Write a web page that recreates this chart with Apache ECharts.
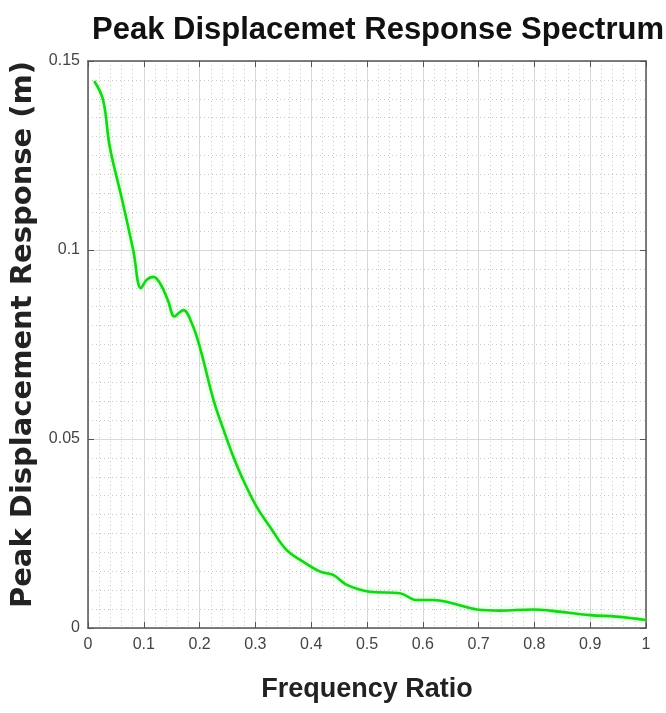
<!DOCTYPE html>
<html>
<head>
<meta charset="utf-8">
<script src="https://cdn.jsdelivr.net/npm/echarts@6/dist/echarts.min.js"></script>
<style>
html,body{margin:0;padding:0;background:#fff;}
#main{width:666px;height:713px;}
</style>
</head>
<body>
<div id="main"></div>
<script>
// curve
var freqRatio = [0.011,0.027,0.039,0.06,0.081,0.095,0.105,0.117,0.129,0.143,0.155,0.163,0.171,0.186,0.201,0.225,0.243,0.26,0.278,0.302,0.326,0.356,0.386,0.416,0.44,0.464,0.505,0.559,0.589,0.619,0.649,0.697,0.738,0.798,0.828,0.9,0.947,1.0];
var peakDisp = [0.1447,0.1397,0.1273,0.114,0.1,0.0899,0.0921,0.0929,0.0912,0.0868,0.0824,0.0834,0.0841,0.0806,0.074,0.0603,0.0524,0.0455,0.0392,0.0321,0.0268,0.0206,0.0175,0.0149,0.014,0.0114,0.0096,0.0092,0.0074,0.0074,0.0067,0.0049,0.0046,0.0049,0.0046,0.0034,0.003,0.0021];
var xTicks = [0,0.1,0.2,0.3,0.4,0.5,0.6,0.7,0.8,0.9,1];
var yTicks = [0,0.05,0.1,0.15];

var narrow = '"Liberation Sans Narrow", "Liberation Sans", Arial, sans-serif';

var pts = [];
for (var i = 0; i < freqRatio.length; i++) pts.push([freqRatio[i], peakDisp[i]]);

var myChart = echarts.init(document.getElementById('main'));

function fmtX(v){
    for (var i = 0; i < xTicks.length; i++) if (Math.abs(xTicks[i]-v) < 1e-9) return String(xTicks[i]);
    return '';
}
function fmtY(v){
    for (var i = 0; i < yTicks.length; i++) if (Math.abs(yTicks[i]-v) < 1e-9) return String(yTicks[i]);
    return '';
}

var boxLine = {show:true, onZero:false, lineStyle:{color:'#555', width:1.5}};
var tickIn = {show:true, inside:true, length:6, lineStyle:{color:'#555', width:1}};
var minorGrid = {show:true, lineStyle:{color:'#c8c8c8', type:[1,3], width:1}};

var option = {
    animation:false,
    backgroundColor:'#fff',
    title:{
        text:'Peak Displacemet Response Spectrum',
        left:373, top:10, textAlign:'center',
        textStyle:{fontFamily:narrow, fontWeight:'bold', fontSize:31, color:'#111'}
    },
    grid:{left:88, right:20, top:61, bottom:85},
    xAxis:[{
        type:'value', min:0, max:1, interval:0.1,
        name:'Frequency Ratio', nameLocation:'middle', nameGap:48,
        nameTextStyle:{fontFamily:narrow, fontWeight:'bold', fontSize:27, color:'#222'},
        axisLine:boxLine, axisTick:tickIn,
        minorTick:{show:false, splitNumber:5},
        axisLabel:{formatter:fmtX, fontFamily:narrow, fontSize:16, color:'#444', margin:9},
        splitLine:{show:true, lineStyle:{color:'#d8d8d8', width:1}},
        minorSplitLine:minorGrid
    },{
        type:'value', min:0, max:1, interval:0.1, position:'top',
        axisLine:boxLine, axisTick:tickIn, axisLabel:{show:false}, splitLine:{show:false}
    }],
    yAxis:[{
        type:'value', min:0, max:0.15, interval:0.05,
        name:'Peak Displacement Response (m)', nameLocation:'middle', nameGap:48,
        nameTextStyle:{fontFamily:'"DejaVu Sans", sans-serif', fontWeight:'bold', fontSize:29, color:'#222', padding:[0,0,0,20]},
        axisLine:boxLine, axisTick:tickIn,
        minorTick:{show:false, splitNumber:10},
        axisLabel:{formatter:fmtY, fontFamily:narrow, fontSize:16, color:'#444', margin:8},
        splitLine:{show:true, lineStyle:{color:'#d8d8d8', width:1}},
        minorSplitLine:minorGrid
    },{
        type:'value', min:0, max:0.15, interval:0.05, position:'right',
        axisLine:boxLine, axisTick:tickIn, axisLabel:{show:false}, splitLine:{show:false}
    }],
    series:[{
        type:'line', data:pts, smooth:0.4, showSymbol:false,
        lineStyle:{color:'#1fcf1f', width:2.6, shadowColor:'rgba(120,255,120,0.8)', shadowBlur:4}
    }]
};

myChart.setOption(option);
</script>
</body>
</html>
